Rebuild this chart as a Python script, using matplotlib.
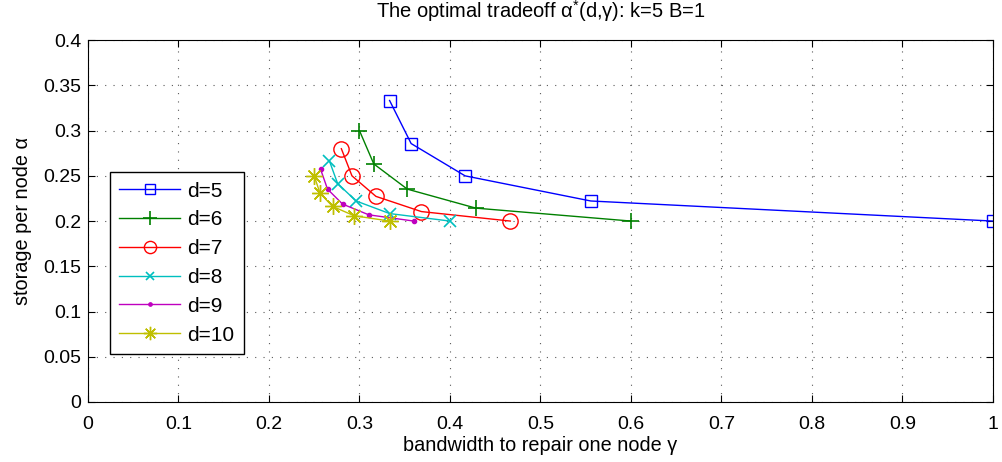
import numpy as np
import matplotlib.pyplot as plt

# corner points of the tradeoff (gamma, alpha) for k=5, B=1
d_values = [5, 6, 7, 8, 9, 10]
gamma = {
    5: [1.0, 0.5556, 0.4167, 0.3571, 0.3333],
    6: [0.6, 0.4286, 0.3529, 0.3158, 0.3],
    7: [0.4667, 0.3684, 0.3182, 0.2917, 0.28],
    8: [0.4, 0.3333, 0.2963, 0.2759, 0.2667],
    9: [0.36, 0.3103, 0.2813, 0.2647, 0.2571],
    10: [0.3333, 0.2941, 0.2703, 0.2564, 0.25],
}
alpha = {
    5: [0.2, 0.2222, 0.25, 0.2857, 0.3333],
    6: [0.2, 0.2143, 0.2353, 0.2632, 0.3],
    7: [0.2, 0.2105, 0.2273, 0.25, 0.28],
    8: [0.2, 0.2083, 0.2222, 0.2414, 0.2667],
    9: [0.2, 0.2069, 0.2188, 0.2353, 0.2571],
    10: [0.2, 0.2059, 0.2162, 0.2308, 0.25],
}
x_ticks = [0, 0.1, 0.2, 0.3, 0.4, 0.5, 0.6, 0.7, 0.8, 0.9, 1]
x_labels = ['0', '0.1', '0.2', '0.3', '0.4', '0.5', '0.6', '0.7', '0.8', '0.9', '1']
y_ticks = [0, 0.05, 0.1, 0.15, 0.2, 0.25, 0.3, 0.35, 0.4]
y_labels = ['0', '0.05', '0.1', '0.15', '0.2', '0.25', '0.3', '0.35', '0.4']

if __name__ == '__main__':
    plt.rcParams['font.family'] = ['Liberation Sans', 'DejaVu Sans']
    plt.rcParams['mathtext.fontset'] = 'custom'
    plt.rcParams['mathtext.rm'] = 'Liberation Sans'
    colors = [(0, 0, 1), (0, 0.5, 0), (1, 0, 0), (0, 0.75, 0.75), (0.75, 0, 0.75), (0.75, 0.75, 0)]
    markers = [
        dict(marker='s', markersize=9, markerfacecolor='none'),
        dict(marker='+', markersize=12, markeredgewidth=1.2),
        dict(marker='o', markersize=11, markerfacecolor='none'),
        dict(marker='x', markersize=8, markeredgewidth=1.2),
        dict(marker='.', markersize=6),
        dict(marker=(8, 2, 0), markersize=12, markeredgewidth=1.0),
    ]

    fig = plt.figure(figsize=(10.03, 4.62), dpi=100)
    ax = fig.add_axes([0.0877, 0.130, 0.9023, 0.783])
    for d, c, m in zip(d_values, colors, markers):
        ax.plot(gamma[d], alpha[d], color=c, linewidth=1.0,
                markeredgecolor=c, label=f'd={d}', **m)

    ax.set_xlim(0, 1)
    ax.set_ylim(0, 0.4)
    ax.set_xticks(x_ticks)
    ax.set_xticklabels(x_labels)
    ax.set_yticks(y_ticks)
    ax.set_yticklabels(y_labels)
    ax.tick_params(direction='in', top=True, right=True, labelsize=14, length=5)
    ax.tick_params(axis='x', pad=10)
    ax.tick_params(axis='y', pad=5)
    ax.grid(True, linestyle=(0, (1, 6.5)), color='0.35', linewidth=0.8)
    for s in ax.spines.values():
        s.set_linewidth(0.8)

    ax.set_xlabel('bandwidth to repair one node γ', fontsize=14.3, labelpad=2)
    ax.set_ylabel('storage per node α', fontsize=14.3, labelpad=8)
    ax.set_title(r'The optimal tradeoff α$^{*}$(d,γ): k=5 B=1', fontsize=14.5, pad=16)

    leg = ax.legend(loc='upper left', bbox_to_anchor=(0.0243, 0.635), borderaxespad=0,
                    fontsize=15, fancybox=False, edgecolor='black', framealpha=1,
                    handlelength=2.9, handletextpad=0.35, borderpad=0.45,
                    labelspacing=0.47, markerscale=0.8)
    leg.get_frame().set_linewidth(1.0)

    plt.savefig('out.png', dpi=100)
